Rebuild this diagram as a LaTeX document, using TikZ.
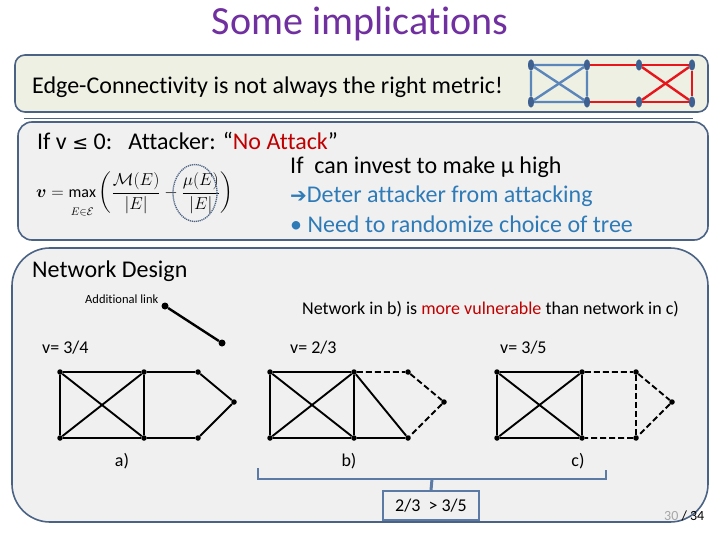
\documentclass[tikz,border=0pt]{standalone}
\usepackage{fontspec}
\setmainfont{Carlito}[RawFeature={-liga}]
\newfontfamily\symfont{DejaVu Sans}
\usepackage{amsmath}
\usetikzlibrary{shapes.geometric, positioning}
\definecolor{slPurple}{HTML}{7030A0}
\definecolor{slFrame}{HTML}{4A6284}
\definecolor{slGreen}{HTML}{EEF0E4}
\definecolor{slGrey}{HTML}{F0F0F0}
\definecolor{slBlue}{HTML}{2E7BB8}
\definecolor{slRed}{HTML}{C00000}
\definecolor{kBlue}{HTML}{5B86BC}
\definecolor{kRed}{HTML}{E8161A}
\definecolor{kNode}{HTML}{3E6192}
\definecolor{braceBlue}{HTML}{5B7BA6}
\tikzset{
  panel/.style     = {draw=slFrame, line width=1.6pt},
  txt/.style       = {anchor=west, inner sep=0pt, font=\fontsize{24}{28}\selectfont},
  smalltxt/.style  = {anchor=west, inner sep=0pt, font=\fontsize{18}{21}\selectfont},
  vertex/.style    = {circle, fill=black, inner sep=0pt, minimum size=5.5pt},
  edge/.style      = {black, line width=1.9pt},
  dedge/.style     = {black, line width=1.9pt, dash pattern=on 6pt off 3pt},
  knode/.style     = {ellipse, fill=kNode, inner sep=0pt, minimum width=6pt, minimum height=11pt},
  bedge/.style     = {kBlue, line width=2.4pt},
  redge/.style     = {kRed, line width=2.4pt},
}

\begin{document}
\begin{tikzpicture}[x=1pt,y=-1pt]
  \useasboundingbox[fill=white] (0,0) rectangle (720,540);
  \node[font=\fontsize{40}{46}\selectfont, text=slPurple] (title) at (360,24) {Some implications};

  % edge-connectivity panel
  \draw[panel, fill=slGreen, rounded corners=10pt] (15,55) rectangle (708,112);
  \draw[slFrame, line width=0.8pt] (24,118) -- (693,118);
  \node[txt] (metric) at (32,87) {Edge-Connectivity is not always the right metric!};
  \node[knode] (k1) at (531,65) {};
  \node[knode] (k2) at (587,65) {};
  \node[knode] (k3) at (531,102) {};
  \node[knode] (k4) at (587,102) {};
  \node[knode] (k5) at (639,65) {};
  \node[knode] (k6) at (692,65) {};
  \node[knode] (k7) at (639,102) {};
  \node[knode] (k8) at (692,102) {};
  \draw[bedge] (k1) -- (k2) -- (k4) -- (k3) -- (k1) -- (k4);
  \draw[bedge] (k2) -- (k3);
  \draw[redge] (k2) -- (k5) -- (k6) -- (k8) -- (k7) -- (k4);
  \draw[redge] (k5) -- (k8);
  \draw[redge] (k6) -- (k7);
  \foreach \k in {k1,k2,k3,k4,k5,k6,k7,k8} \node[knode] at (\k) {};

  % attacker panel
  \draw[panel, fill=slGrey, rounded corners=14pt] (18,122) rectangle (708,240);
  \node[txt, text depth=0pt] (noatt) at (37,141) {If v {\symfont\fontsize{19}{22}\selectfont ≤}~0:\ \ \ Attacker: “\textcolor{slRed}{No Attack}”};
  \node[anchor=west, inner sep=0pt, font=\fontsize{16}{18}\selectfont] (formula) at (36,195)
    {$\boldsymbol{v}=\max\limits_{\rule{0pt}{0.95em}E\in\mathcal{E}}\left(\dfrac{\mathcal{M}(E)}{|E|}-\dfrac{\mu(E)}{|E|}\right)$};
  \node[draw=slFrame, dash pattern=on 1.2pt off 0.8pt, line width=1.3pt, ellipse,
        minimum width=44pt, minimum height=57pt] (mucirc) at (195,193) {};
  \node[txt] (invest) at (290,167) {If\ \ can invest to make μ high};
  \node[txt, text=slBlue] (deter) at (290,196) {{\symfont\fontsize{20}{24}\selectfont ➔}Deter attacker from attacking};
  \node[txt, text=slBlue] (random) at (290,224) {• Need to randomize choice of tree};

  % network design panel
  \draw[panel, fill=slGrey, rounded corners=38pt] (12,248) rectangle (708,522);
  \node[txt] (design) at (32,271) {Network Design};
  \node[anchor=west, inner sep=0pt, font=\fontsize{12.5}{14}\selectfont] (addl) at (85,299) {Additional link};
  \node[vertex, minimum size=7pt] (l1) at (165,306) {};
  \node[vertex, minimum size=7pt] (l2) at (222,343) {};
  \draw[edge, line width=2.4pt] (l1) -- (l2);
  \node[smalltxt] (vuln) at (302,309) {Network in b) is \textcolor{slRed}{more vulnerable} than network in c)};
  \node[smalltxt] (va) at (42,348) {v= 3/4};
  \node[smalltxt] (vb) at (290,348) {v= 2/3};
  \node[smalltxt] (vc) at (500,348) {v= 3/5};

  % graph a)
  \node[vertex] (a1) at (60,372) {};
  \node[vertex] (a2) at (144,372) {};
  \node[vertex] (a3) at (60,438) {};
  \node[vertex] (a4) at (144,438) {};
  \node[vertex] (a5) at (198,372) {};
  \node[vertex] (a6) at (198,438) {};
  \node[vertex] (a7) at (234,402) {};
  \draw[edge] (a1) -- (a2) -- (a4) -- (a3) -- (a1) -- (a4);
  \draw[edge] (a2) -- (a3);
  \draw[edge] (a2) -- (a5) -- (a7) -- (a6) -- (a4);
  \node[smalltxt, anchor=center] (la) at (122,461) {a)};

  % graph b)
  \node[vertex] (b1) at (270,372) {};
  \node[vertex] (b2) at (354,372) {};
  \node[vertex] (b3) at (270,438) {};
  \node[vertex] (b4) at (354,438) {};
  \node[vertex] (b5) at (408,372) {};
  \node[vertex] (b6) at (408,438) {};
  \node[vertex] (b7) at (444,402) {};
  \draw[edge] (b1) -- (b2) -- (b4) -- (b3) -- (b1) -- (b4);
  \draw[edge] (b2) -- (b3);
  \draw[edge] (b2) -- (b6) -- (b4);
  \draw[dedge] (b2) -- (b5) -- (b7) -- (b6);
  \node[smalltxt, anchor=center] (lb) at (349,461) {b)};

  % graph c)
  \node[vertex] (c1) at (497,372) {};
  \node[vertex] (c2) at (582,372) {};
  \node[vertex] (c3) at (497,438) {};
  \node[vertex] (c4) at (582,438) {};
  \node[vertex] (c5) at (636,372) {};
  \node[vertex] (c6) at (636,438) {};
  \node[vertex] (c7) at (672,402) {};
  \draw[edge] (c1) -- (c2) -- (c4) -- (c3) -- (c1) -- (c4);
  \draw[edge] (c2) -- (c3);
  \draw[dedge] (c2) -- (c5) -- (c7) -- (c6) -- (c4);
  \draw[dedge] (c5) -- (c6);
  \node[smalltxt, anchor=center] (lc) at (578,461) {c)};

  % comparison
  \draw[braceBlue, line width=2pt] (258,468) -- (258,479) -- (606,479) -- (606,470);
  \coordinate (bmid) at (432,479);
  \node[draw=braceBlue, line width=1.6pt, fill=slGrey, minimum width=96pt, minimum height=29pt,
        font=\fontsize{18}{21}\selectfont] (cmp) at (431,505.5) {2/3\ \ > 3/5};
  \draw[braceBlue, line width=3pt] (bmid) -- (cmp.north);
  \node[anchor=west, inner sep=0pt, font=\fontsize{14}{16}\selectfont] (pg) at (664,516) {\textcolor{gray!70}{30} / 34};
\end{tikzpicture}
\end{document}
